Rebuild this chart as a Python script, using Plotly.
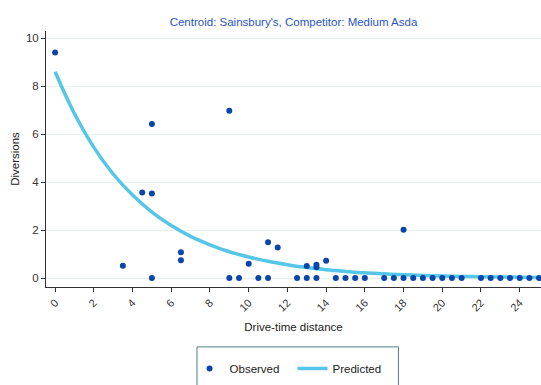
import plotly.graph_objects as go

# Observed diversions by drive-time distance
obs_x = [0, 3.5, 4.5, 5, 5, 5, 6.5, 6.5, 9, 9, 9.5, 10, 10.5, 11, 11, 11.5,
         12.5, 13, 13, 13.5, 13.5, 13.5, 14, 14.5, 15, 15.5, 16, 17, 17.5,
         18, 18, 18.5, 19, 19.5, 20, 20.5, 21, 22, 22.5, 23, 23.5, 24, 24.5, 25]
obs_y = [9.4, 0.52, 3.57, 3.53, 6.42, 0, 1.08, 0.75, 6.98, 0, 0, 0.6, 0, 0, 1.5, 1.28,
         0, 0, 0.51, 0, 0.45, 0.56, 0.72, 0, 0, 0, 0, 0, 0,
         0, 2.02, 0, 0, 0, 0, 0, 0, 0, 0, 0, 0, 0, 0, 0]

# Predicted diversions (fitted curve)
pred_x = list(range(0, 26))
pred_y = [8.6, 6.85, 5.45, 4.34, 3.46, 2.75, 2.19, 1.74, 1.39, 1.10, 0.88, 0.70,
          0.56, 0.44, 0.35, 0.28, 0.22, 0.18, 0.14, 0.11, 0.09, 0.07, 0.06,
          0.05, 0.04, 0.03]

x_ticks = list(range(0, 26, 2))
y_ticks = [0, 2, 4, 6, 8, 10]

fig = go.Figure()
fig.add_trace(go.Scatter(
    x=pred_x, y=pred_y, mode="lines", name="Predicted",
    line=dict(color="#55c6e8", width=3.5, shape="spline"),
    legendrank=2,
))
fig.add_trace(go.Scatter(
    x=obs_x, y=obs_y, mode="markers", name="Observed",
    marker=dict(color="#0a45a8", size=6),
    legendrank=1,
))

# Frame around the legend (runs past the bottom edge of the page)
fig.add_shape(type="rect", xref="paper", yref="paper",
              x0=0.305, x1=0.712, y0=-0.43, y1=-0.234,
              line=dict(color="#4f8080", width=1), fillcolor="rgba(0,0,0,0)")

fig.update_layout(
    width=541, height=385,
    margin=dict(l=46, r=0, t=31, b=98),
    paper_bgcolor="white", plot_bgcolor="white",
    font=dict(family="Liberation Sans, Arial, sans-serif", size=11, color="#333333"),
    title=dict(text="Centroid: Sainsbury's, Competitor: Medium Asda",
               x=0.5, xanchor="center", xref="paper", y=0.944, yanchor="middle",
               font=dict(size=11.5, color="#2a55c0")),
    showlegend=True,
    legend=dict(orientation="h", x=0.29, xanchor="left", y=-0.262, yanchor="top",
                borderwidth=0, bgcolor="rgba(0,0,0,0)",
                font=dict(size=11.5, color="#222222"),
                entrywidth=58, entrywidthmode="pixels"),
)

fig.update_xaxes(
    title=dict(text="Drive-time distance", font=dict(size=11.5, color="#222222"), standoff=10),
    range=[-0.47, 25.1], tickvals=x_ticks, ticktext=[str(v) for v in x_ticks],
    tickangle=-45, showgrid=False, zeroline=False,
    showline=True, linecolor="#333333", linewidth=1,
    ticks="outside", ticklen=4, tickcolor="#333333",
    tickfont=dict(size=11, color="#333333"),
)
fig.update_yaxes(
    title=dict(text="Diversions", font=dict(size=11.5, color="#222222"), standoff=3),
    range=[-0.37, 10.3], tickvals=y_ticks, ticktext=[str(v) for v in y_ticks],
    showgrid=True, gridcolor="#e8f0f2", gridwidth=1, zeroline=False,
    showline=True, linecolor="#333333", linewidth=1,
    ticks="outside", ticklen=4, tickcolor="#333333",
    tickfont=dict(size=11.5, color="#333333"),
)

fig.write_html("out.html")
